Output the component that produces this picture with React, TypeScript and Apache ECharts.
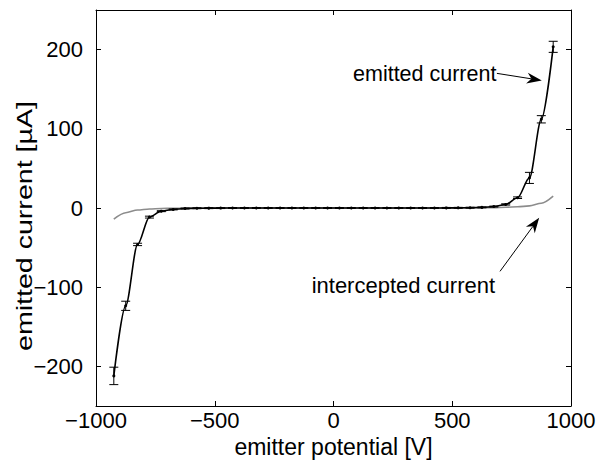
import React, { useEffect, useRef } from "react";
import * as echarts from "echarts";

const voltage = [
  -925, -875, -825, -775, -725, -675, -625, -575, -525, -475,
  -425, -375, -325, -275, -225, -175, -125, -75, -25,
  25, 75, 125, 175, 225, 275, 325, 375, 425,
  475, 525, 575, 625, 675, 725, 775, 825, 875, 925,
];
const emitted = [
  -212, -123.5, -46, -11.5, -4, -1.8, -0.7, -0.3, -0.2, -0.1,
  0, 0, 0, 0, 0, 0, 0, 0, 0,
  0, 0, 0, 0, 0, 0, 0, 0, 0,
  0.1, 0.2, 0.4, 0.8, 1.8, 4.5, 13, 38, 112, 203.5,
];
const emittedErr = [
  11, 5.8, 1.5, 1.2, 0.6, 0.6, 0.6, 0.6, 0.6, 0.6,
  0.6, 0.6, 0.6, 0.6, 0.6, 0.6, 0.6, 0.6, 0.6,
  0.6, 0.6, 0.6, 0.6, 0.6, 0.6, 0.6, 0.6, 0.6,
  0.6, 0.6, 0.6, 0.6, 0.6, 0.8, 1, 7, 4.6, 7,
];
const intercepted = [
  -14, -6, -2.5, -1.2, -0.6, -0.3, -0.15, -0.08, -0.05, -0.02,
  0, 0, 0, 0, 0, 0, 0, 0, 0,
  0, 0, 0, 0, 0, 0, 0, 0, 0,
  0.03, 0.06, 0.12, 0.25, 0.45, 0.9, 1.5, 2.7, 6, 15,
];
const xTicks = [-1000, -500, 0, 500, 1000];
const yTicks = [-200, -100, 0, 100, 200];

const FONT = "Liberation Sans, Arial, Helvetica, sans-serif";

export default function App() {
  const ref = useRef<HTMLDivElement>(null);
  useEffect(() => {
    if (!ref.current) return;
    const chart = echarts.init(ref.current, null, { renderer: "svg" });

    const axisLine = { show: true, onZero: false, lineStyle: { color: "#000", width: 1 } };
    const tick = (vals: number[]) => ({
      show: true,
      inside: true,
      length: 5,
      customValues: vals,
      lineStyle: { color: "#000", width: 1 },
    });
    const fmt = (v: number) => (v < 0 ? "\u2212" + Math.abs(v) : String(v));

    const errData = voltage.map((v, i) => [v, emitted[i] - emittedErr[i], emitted[i] + emittedErr[i]]);

    chart.setOption({
      animation: false,
      backgroundColor: "#fff",
      grid: { left: 96, right: 28, top: 10, bottom: 58, containLabel: false },
      xAxis: [
        {
          type: "value",
          position: "bottom",
          min: -1000,
          max: 1000,
          axisLine,
          splitLine: { show: false },
          axisTick: tick(xTicks),
          axisLabel: {
            customValues: xTicks,
            color: "#000",
            fontSize: 22,
            fontFamily: FONT,
            margin: 3,
            formatter: fmt,
          },
          name: "emitter potential [V]",
          nameLocation: "middle",
          nameGap: 25,
          nameTextStyle: { color: "#000", fontSize: 23, fontFamily: FONT, verticalAlign: "top" },
        },
        {
          type: "value",
          position: "top",
          min: -1000,
          max: 1000,
          axisLine,
          splitLine: { show: false },
          axisTick: tick(xTicks),
          axisLabel: { show: false },
        },
      ],
      yAxis: [
        {
          type: "value",
          position: "left",
          min: -250,
          max: 250,
          axisLine,
          splitLine: { show: false },
          axisTick: tick(yTicks),
          axisLabel: {
            customValues: yTicks,
            color: "#000",
            fontSize: 22,
            fontFamily: FONT,
            margin: 13,
            formatter: fmt,
          },
        },
        {
          type: "value",
          position: "right",
          min: -250,
          max: 250,
          axisLine,
          splitLine: { show: false },
          axisTick: tick(yTicks),
          axisLabel: { show: false },
        },
      ],
      series: [
        {
          type: "line",
          name: "intercepted",
          data: voltage.map((v, i) => [v, intercepted[i]]),
          showSymbol: false,
          smooth: 0.3,
          smoothMonotone: "x",
          lineStyle: { color: "#8c8c8c", width: 1.6 },
          z: 2,
        },
        {
          type: "custom",
          name: "errors",
          data: errData,
          encode: { x: 0, y: [1, 2] },
          renderItem: (params: any, api: any) => {
            const x = api.value(0);
            const lo = api.coord([x, api.value(1)]);
            const hi = api.coord([x, api.value(2)]);
            const w = 4.5;
            const style = { stroke: "#000", lineWidth: 1 };
            return {
              type: "group",
              children: [
                { type: "line", shape: { x1: lo[0], y1: lo[1], x2: hi[0], y2: hi[1] }, style },
                { type: "line", shape: { x1: lo[0] - w, y1: lo[1], x2: lo[0] + w, y2: lo[1] }, style },
                { type: "line", shape: { x1: hi[0] - w, y1: hi[1], x2: hi[0] + w, y2: hi[1] }, style },
              ],
            };
          },
          z: 3,
        },
        {
          type: "line",
          name: "emitted",
          data: voltage.map((v, i) => [v, emitted[i]]),
          symbol: "circle",
          symbolSize: 3,
          smooth: 0.3,
          smoothMonotone: "x",
          itemStyle: { color: "#000" },
          lineStyle: { color: "#000", width: 1.6 },
          z: 4,
        },
      ],
    });

    const px = (x: number, y: number) => chart.convertToPixel({ gridIndex: 0 }, [x, y]) as number[];
    const arrow = (s: number[], t: number[]) => {
      const dx = t[0] - s[0];
      const dy = t[1] - s[1];
      const len = Math.hypot(dx, dy);
      const ux = dx / len, uy = dy / len;
      const nx = -uy, ny = ux;
      const L = 15, W = 5.5;
      const b = [t[0] - L * ux, t[1] - L * uy];
      const notch = [t[0] - 0.7 * L * ux, t[1] - 0.7 * L * uy];
      return [
        { type: "line", shape: { x1: s[0], y1: s[1], x2: notch[0], y2: notch[1] }, style: { stroke: "#000", lineWidth: 1 }, z: 10 },
        {
          type: "polygon",
          shape: { points: [t, [b[0] + W * nx, b[1] + W * ny], notch, [b[0] - W * nx, b[1] - W * ny]] },
          style: { fill: "#000" },
          z: 10,
        },
      ];
    };

    const e1 = px(688, 170);
    const e2 = px(877, 161);
    const eText = px(686, 169);
    const i1 = px(701, -80);
    const i2 = px(866, -12.4);
    const iText = px(-92, -98);

    chart.setOption({
      graphic: [
        ...arrow(e1, e2),
        ...arrow(i1, i2),
        {
          type: "text",
          x: eText[0],
          y: eText[1],
          style: { text: "emitted current", fill: "#000", fontSize: 21.5, fontFamily: FONT, align: "right", verticalAlign: "middle" },
          z: 10,
        },
        {
          type: "text",
          x: iText[0],
          y: iText[1],
          style: { text: "intercepted current", fill: "#000", fontSize: 22, fontFamily: FONT, align: "left", verticalAlign: "middle" },
          z: 10,
        },
        {
          type: "text",
          x: 24,
          y: 226,
          rotation: Math.PI / 2,
          scaleX: 1.33,
          style: { text: "emitted current [\u00b5A]", fill: "#000", fontSize: 21.5, fontFamily: FONT, align: "center", verticalAlign: "middle" },
          z: 10,
        },
      ],
    });

    return () => chart.dispose();
  }, []);
  return <div ref={ref} style={{ width: 599, height: 464, position: "absolute", left: 0, top: 0 }} />;
}
